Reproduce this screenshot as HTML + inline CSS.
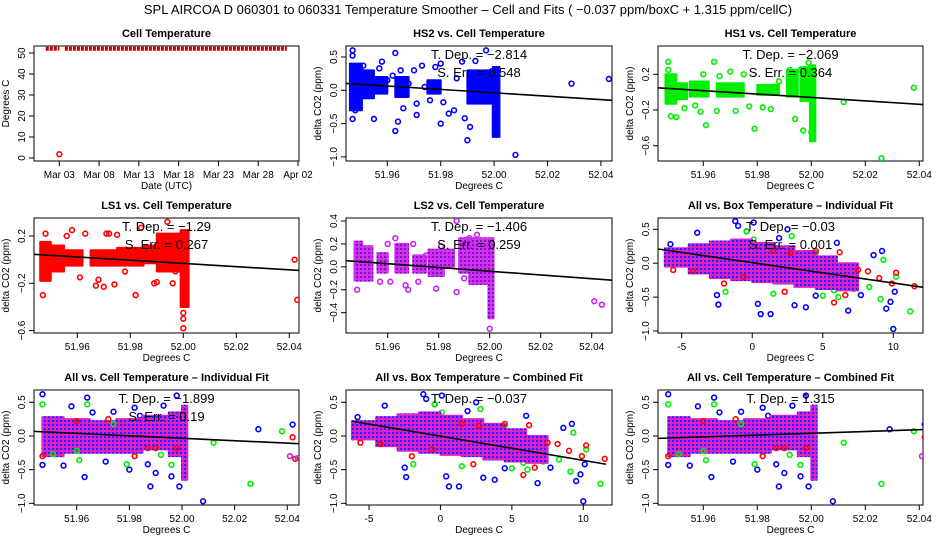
<!DOCTYPE html>
<html><head><meta charset="utf-8"><style>
html,body{margin:0;padding:0;background:#fff;}
svg{display:block;font-family:"Liberation Sans",sans-serif;}
</style></head><body>
<svg id="chart" width="936" height="540" viewBox="0 0 936 540">
<defs>
<pattern id="mixPat" width="4" height="4" patternUnits="userSpaceOnUse">
<rect width="4" height="4" fill="#d020e8"/>
<rect width="2" height="2" fill="#3020f0"/>
<rect x="2" y="2" width="1" height="1" fill="#ff3060"/>
</pattern>
<pattern id="magPat" width="4" height="4" patternUnits="userSpaceOnUse">
<rect width="4" height="4" fill="#d030f0"/>
<rect width="2" height="2" fill="#8010c0"/>
</pattern>
</defs>
<text x="468" y="14" text-anchor="middle" font-size="13">SPL   AIRCOA D   060301 to 060331   Temperature Smoother – Cell and Fits ( −0.037  ppm/boxC +  1.315  ppm/cellC)</text>
</svg>
<script>
// ---- data arrays ----
const cellTicks = [51.96, 51.98, 52.00, 52.02, 52.04];
const boxTicks = [-5, 0, 5, 10];
const dateTicks = [3, 8, 13, 18, 23, 28, 33];
const dateLabels = ["Mar 03","Mar 08","Mar 13","Mar 18","Mar 23","Mar 28","Apr 02"];
const tempTicks = [0, 10, 20, 30, 40, 50];
const yTicksA = [0.5, 0.0, -0.5, -1.0];
const yTicksB = [0.2, -0.2, -0.6];
const yTicksC = [0.4, 0.2, 0.0, -0.2, -0.4];

// Cell temperature series
const cellRunStart = [1.3, 3.7];
const cellRunEnd = [3.0, 31.6];
const cellRunValue = [52, 52];
const cellOutX = [3.0];
const cellOutY = [1.8];

// HS2 (blue)
const hs2X = [51.947,51.947,51.947,51.948,51.951,51.955,51.957,51.958,51.960,51.962,51.963,51.963,51.964,51.965,51.966,51.968,51.970,51.971,51.971,51.973,51.974,51.976,51.978,51.980,51.980,51.981,51.983,51.985,51.986,51.988,51.989,51.990,51.991,51.993,51.995,51.997,52.008,52.029,52.043];
const hs2Y = [0.60,0.52,-0.43,-0.30,0.37,-0.43,0.33,0.43,0.15,0.22,0.56,-0.61,-0.47,0.30,-0.27,0.10,0.30,-0.37,-0.20,0.37,0.05,-0.15,0.35,-0.50,0.40,-0.18,-0.35,-0.30,0.18,0.43,-0.42,-0.75,-0.55,0.44,-0.10,0.60,-0.97,0.10,0.17];
const hs2BandX0 = [51.946,51.9505,51.955,51.963,51.975,51.990,51.9995];
const hs2BandX1 = [51.9505,51.955,51.960,51.968,51.980,51.999,52.002];
const hs2BandLo = [-0.30,-0.12,-0.05,-0.10,-0.05,-0.20,-0.70];
const hs2BandHi = [0.40,0.30,0.20,0.20,0.15,0.30,0.35];
const hs2Fit = [0.115, -0.165];

// HS1 (green)
const hs1X = [51.947,51.947,51.948,51.950,51.953,51.957,51.959,51.960,51.961,51.964,51.965,51.966,51.970,51.972,51.975,51.977,51.979,51.982,51.985,51.988,51.992,51.994,51.996,51.997,51.999,52.000,52.012,52.026,52.038];
const hs1Y = [0.34,0.25,-0.27,-0.28,-0.18,-0.15,-0.22,0.20,-0.37,0.34,-0.21,0.18,0.23,-0.21,0.20,-0.16,-0.41,-0.17,-0.19,0.12,0.25,-0.30,0.25,-0.43,0.33,-0.45,-0.11,-0.74,0.05];
const hs1BandX0 = [51.946,51.950,51.955,51.965,51.980,51.991,51.996,51.9995];
const hs1BandX1 = [51.950,51.954,51.962,51.975,51.988,51.995,51.999,52.0015];
const hs1BandLo = [-0.13,-0.08,-0.05,-0.05,-0.03,-0.05,-0.10,-0.55];
const hs1BandHi = [0.20,0.10,0.12,0.10,0.08,0.25,0.28,0.30];
const hs1Fit = [0.055, -0.155];

// LS1 (red)
const ls1X = [51.947,51.947,51.948,51.953,51.956,51.958,51.961,51.963,51.967,51.968,51.970,51.971,51.972,51.974,51.975,51.978,51.982,51.984,51.989,51.990,51.994,51.996,51.997,52.000,52.000,52.000,52.042,52.043];
const ls1Y = [0.05,-0.30,0.22,-0.05,0.20,0.25,-0.15,0.22,-0.22,-0.17,-0.23,0.22,0.22,-0.21,0.21,-0.10,-0.30,0.27,-0.20,-0.19,0.32,-0.20,-0.10,-0.45,-0.50,-0.58,0.00,-0.34];
const ls1BandX0 = [51.946,51.950,51.955,51.965,51.975,51.985,51.990,51.999];
const ls1BandX1 = [51.950,51.955,51.962,51.975,51.985,51.990,51.999,52.002];
const ls1BandLo = [-0.18,-0.10,-0.05,-0.05,-0.05,-0.03,-0.10,-0.40];
const ls1BandHi = [0.15,0.12,0.08,0.08,0.10,0.12,0.22,0.25];
const ls1Fit = [0.05, -0.10];

// LS2 (magenta)
const ls2X = [51.948,51.957,51.960,51.961,51.963,51.967,51.968,51.970,51.972,51.975,51.979,51.981,51.985,51.987,51.987,51.990,51.992,51.995,52.000,52.041,52.044];
const ls2Y = [-0.20,-0.13,0.20,-0.13,0.25,-0.16,-0.20,0.20,-0.13,0.10,-0.19,0.18,0.05,-0.22,0.40,-0.10,0.25,0.28,-0.54,-0.30,-0.33];
const ls2BandX0 = [51.947,51.950,51.956,51.963,51.970,51.976,51.982,51.988,51.992,51.9995];
const ls2BandX1 = [51.950,51.954,51.960,51.968,51.975,51.982,51.986,51.992,51.999,52.0015];
const ls2BandLo = [-0.12,-0.12,-0.05,-0.05,-0.05,-0.08,0.00,-0.05,-0.15,-0.45];
const ls2BandHi = [0.22,0.18,0.12,0.20,0.10,0.15,0.15,0.25,0.25,0.25];
const ls2Fit = [0.06, -0.12];

// All vs box temperature
const boxBandX0 = [-6.2,-4.5,-3,-1.5,0,1.5,3,4.5,6];
const boxBandX1 = [-4.5,-3,-1.5,0,1.5,3,4.5,6,7.5];
const boxBandLo = [-0.05,-0.15,-0.22,-0.25,-0.28,-0.30,-0.35,-0.38,-0.40];
const boxBandHi = [0.22,0.28,0.32,0.35,0.30,0.25,0.18,0.10,0.00];
const boxBlueX = [-5.8,-3.9,-2.5,-2.4,-1.2,-1.0,0.1,0.4,0.6,1.3,1.9,3.0,3.8,4.5,6.0,6.8,7.7,8.6,9.2,9.5,9.8,10.0,10.1,-0.4,2.5];
const boxBlueY = [0.28,0.45,-0.47,-0.61,0.62,0.55,0.60,-0.60,-0.75,-0.75,0.37,-0.62,-0.65,-0.48,0.30,-0.70,-0.47,0.12,0.18,-0.67,-0.57,-0.97,-0.42,0.47,0.50];
const boxGreenX = [-4.6,-1.9,-0.4,0.1,1.5,2.8,4.5,5.0,5.8,6.1,7.2,8.3,9.1,9.3,10.2,11.2];
const boxGreenY = [0.05,-0.42,0.47,0.35,-0.45,0.40,0.15,-0.48,-0.40,-0.50,-0.38,-0.35,-0.53,0.05,-0.20,-0.71];
const boxRedX = [-5.6,-4.2,-2.0,-0.6,1.5,2.3,2.7,4.5,5.8,6.2,6.6,7.5,8.2,9.0,9.9,10.2,11.5];
const boxRedY = [-0.10,-0.12,-0.30,-0.20,0.18,-0.42,0.15,0.18,-0.58,0.16,-0.47,-0.10,-0.12,-0.22,-0.30,-0.14,-0.34];
const box6Fit = [0.21, -0.37];
const box8Fit = [0.22, -0.42];

// All vs cell temperature
const cellBandX0 = [51.947,51.955,51.965,51.975,51.985,51.995,52.0];
const cellBandX1 = [51.955,51.965,51.975,51.985,51.995,52.0,52.002];
const cellBandLo = [-0.30,-0.25,-0.25,-0.25,-0.20,-0.30,-0.65];
const cellBandHi = [0.28,0.25,0.22,0.25,0.30,0.35,0.45];
const cellBlueX = [51.947,51.947,51.955,51.958,51.963,51.964,51.966,51.971,51.974,51.980,51.982,51.984,51.987,51.988,51.990,51.993,51.996,51.998,51.999,52.008,52.029,52.042];
const cellBlueY = [0.62,-0.43,-0.44,0.44,-0.61,0.57,0.35,-0.38,0.36,-0.50,0.42,0.30,-0.42,-0.75,-0.55,0.45,-0.60,0.60,-0.75,-0.97,0.10,0.17];
const cellGreenX = [51.947,51.951,51.960,51.961,51.964,51.974,51.979,51.992,51.996,52.012,52.026,52.038];
const cellGreenY = [0.47,-0.27,-0.22,-0.36,0.47,0.18,-0.42,-0.28,-0.43,-0.10,-0.71,0.07];
const cellRedX = [51.947,51.960,51.972,51.982,51.987,51.990,51.998,52.042,52.043];
const cellRedY = [-0.30,0.22,0.25,-0.30,-0.18,-0.18,-0.18,-0.02,-0.34];
const cellMagX = [52.041,52.044];
const cellMagY = [-0.30,-0.33];
const cell7Fit = [0.075, -0.125];
const cell9Fit = [-0.04, 0.10];

// ---- drawing ----
const NS = "http://www.w3.org/2000/svg";
const svg = document.getElementById("chart");
function mk(tag, attrs, parent) {
  const e = document.createElementNS(NS, tag);
  for (const k in attrs) e.setAttribute(k, attrs[k]);
  (parent || svg).appendChild(e);
  return e;
}
function lin(d0, d1, r0, r1) { return v => r0 + (v - d0) * (r1 - r0) / (d1 - d0); }

const COLS = [[34, 299], [346, 612], [658, 923]];
const ROWS = [[46, 161], [218, 333], [390, 505]];

function panel(name, r, c, title, xs, ys, xTicks, xLabels, yTicks, yDec, ylabel, xlabel) {
  const g = mk("g", {});
  
  
  const [L, R] = COLS[c], [T, B] = ROWS[r];
  const clip = mk("clipPath", { id: "clip-" + name }, g);
  mk("rect", { x: L, y: T, width: R - L, height: B - T }, clip);
  const t = mk("text", { x: (L + R) / 2, y: T - 9, "text-anchor": "middle", "font-size": "11", "font-weight": "bold" }, g);
  t.textContent = title;
  
  
  const box = mk("rect", { x: L, y: T, width: R - L, height: B - T, fill: "none", stroke: "#000", "stroke-width": 1 }, g);
  
  
  xTicks.forEach((v, i) => {
    const x = xs(v);
    mk("line", { x1: x, x2: x, y1: B, y2: B + 5, stroke: "#000" }, g);
    const tx = mk("text", { x: x, y: B + 17, "text-anchor": "middle", "font-size": "10" }, g);
    tx.textContent = xLabels[i];
    
    
  });
  yTicks.forEach(v => {
    const y = ys(v);
    mk("line", { x1: L - 5, x2: L, y1: y, y2: y, stroke: "#000" }, g);
    const ty = mk("text", { x: L - 9, y: y, "text-anchor": "middle", "font-size": "10", transform: `rotate(-90 ${L - 9} ${y})` }, g);
    ty.textContent = v.toFixed(yDec).replace("-", "−");
    
    
  });
  const xl = mk("text", { x: (L + R) / 2, y: B + 28, "text-anchor": "middle", "font-size": "10" }, g);
  xl.textContent = xlabel;
  
  
  const yx = L - 25, yy = (T + B) / 2;
  const yl = mk("text", { x: yx, y: yy, "text-anchor": "middle", "font-size": "10", transform: `rotate(-90 ${yx} ${yy})` }, g);
  yl.textContent = ylabel;
  
  
  const plot = mk("g", { "clip-path": `url(#clip-${name})` }, g);
  return { g, plot, xs, ys, L, R, T, B };
}
function bands(p, x0, x1, lo, hi, color, name) {
  x0.forEach((v, i) => {
    const a = p.xs(v), b = p.xs(x1[i]);
    const rc = mk("rect", { x: a, y: p.ys(hi[i]), width: Math.max(2, b - a), height: p.ys(lo[i]) - p.ys(hi[i]), fill: color, stroke: color, "stroke-width": 2, "stroke-linejoin": "round" }, p.plot);
    
    
  });
}
function points(p, X, Y, color, name) {
  X.forEach((v, i) => {
    const ci = mk("circle", { cx: p.xs(v), cy: p.ys(Y[i]), r: 2.4, fill: "none", stroke: color, "stroke-width": 1.6 }, p.plot);
    
    
  });
}
function fit(p, x0, x1, yv) {
  const l = mk("line", { x1: p.xs(x0), y1: p.ys(yv[0]), x2: p.xs(x1), y2: p.ys(yv[1]), stroke: "#000", "stroke-width": 1.6 }, p.plot);
  
  
}
function stats(p, l1, l2) {
  const cx = (p.L + p.R) / 2;
  const a = mk("text", { x: cx, y: p.T + 13, "text-anchor": "middle", "font-size": "13" }, p.g);
  a.textContent = l1;
  
  
  if (l2) {
    const b = mk("text", { x: cx, y: p.T + 31, "text-anchor": "middle", "font-size": "13" }, p.g);
    b.textContent = l2;
    
    
  }
}
const cellLabels = cellTicks.map(v => v.toFixed(2));
const BLUE = "#0000ff", GREEN = "#00ee00", RED = "#ff0000", MAG = "#cc22ee";
const MIX = "url(#mixPat)", MAGP = "url(#magPat)";

// Panel 1
{
  const xs = lin(3, 33, 59.3, 298), ys = lin(0, 50, 158, 53);
  const p = panel("cell-temperature-panel", 0, 0, "Cell Temperature", xs, ys, dateTicks, dateLabels, tempTicks, 0, "Degrees C", "Date (UTC)");
  cellRunStart.forEach((s, i) => {
    const l = mk("line", { x1: xs(s), x2: xs(cellRunEnd[i]), y1: ys(cellRunValue[i]), y2: ys(cellRunValue[i]), stroke: "#cc0000", "stroke-width": 4, "stroke-dasharray": "3 1" }, p.plot);
    
    
  });
  points(p, cellOutX, cellOutY, RED, "cell-temp-outlier");
}
// Panel 2 HS2
{
  const p = panel("hs2-panel", 0, 1, "HS2 vs. Cell Temperature", lin(51.96, 51.98, 387.3, 440.7), lin(0, 0.5, 90.3, 57), cellTicks, cellLabels, yTicksA, 1, "delta CO2 (ppm)", "Degrees C");
  bands(p, hs2BandX0, hs2BandX1, hs2BandLo, hs2BandHi, BLUE, "hs2-dense-points");
  points(p, hs2X, hs2Y, BLUE, "hs2-point");
  fit(p, 51.94, 52.05, hs2Fit);
  stats(p, "T. Dep. =  −2.814", "S. Err. =  0.548");
}
// Panel 3 HS1
{
  const p = panel("hs1-panel", 0, 2, "HS1 vs. Cell Temperature", lin(51.96, 52.04, 703.3, 919.3), lin(-0.2, 0.2, 110, 74.3), cellTicks, cellLabels, yTicksB, 1, "delta CO2 (ppm)", "Degrees C");
  bands(p, hs1BandX0, hs1BandX1, hs1BandLo, hs1BandHi, GREEN, "hs1-dense-points");
  points(p, hs1X, hs1Y, GREEN, "hs1-point");
  fit(p, 51.94, 52.05, hs1Fit);
  stats(p, "T. Dep. =  −2.069", "S. Err. =  0.364");
}
// Panel 4 LS1
{
  const p = panel("ls1-panel", 1, 0, "LS1 vs. Cell Temperature", lin(51.96, 52.04, 77.3, 289.3), lin(-0.2, 0.2, 283.3, 236), cellTicks, cellLabels, yTicksB, 1, "delta CO2 (ppm)", "Degrees C");
  bands(p, ls1BandX0, ls1BandX1, ls1BandLo, ls1BandHi, RED, "ls1-dense-points");
  points(p, ls1X, ls1Y, RED, "ls1-point");
  fit(p, 51.94, 52.05, ls1Fit);
  stats(p, "T. Dep. =  −1.29", "S. Err. =  0.267");
}
// Panel 5 LS2
{
  const p = panel("ls2-panel", 1, 1, "LS2 vs. Cell Temperature", lin(51.96, 52.04, 387.7, 591.7), lin(-0.4, 0.4, 312.7, 221), cellTicks, cellLabels, yTicksC, 1, "delta CO2 (ppm)", "Degrees C");
  bands(p, ls2BandX0, ls2BandX1, ls2BandLo, ls2BandHi, MAGP, "ls2-dense-points");
  points(p, ls2X, ls2Y, MAG, "ls2-point");
  fit(p, 51.94, 52.05, ls2Fit);
  stats(p, "T. Dep. =  −1.406", "S. Err. =  0.259");
}
// Panel 6
{
  const p = panel("all-box-individual-panel", 1, 2, "All vs. Box Temperature – Individual Fit", lin(-5, 10, 681.7, 893.3), lin(-1, 0.5, 331, 229.3), boxTicks, boxTicks.map(String), yTicksA, 1, "delta CO2 (ppm)", "Degrees C");
  points(p, boxBlueX, boxBlueY, BLUE, "hs2-point");
  points(p, boxGreenX, boxGreenY, GREEN, "hs1-point");
  bands(p, boxBandX0, boxBandX1, boxBandLo, boxBandHi, MIX, "all-box-dense-points");
  points(p, boxRedX, boxRedY, RED, "ls1-point");
  fit(p, -6.7, 12.6, box6Fit);
  stats(p, "T. Dep. =  −0.03", "S. Err. =  0.001");
}
// Panel 7
{
  const p = panel("all-cell-individual-panel", 2, 0, "All vs. Cell Temperature – Individual Fit", lin(51.96, 52.04, 76.7, 287.3), lin(-1, 0.5, 503.3, 402.3), cellTicks, cellLabels, yTicksA, 1, "delta CO2 (ppm)", "Degrees C");
  points(p, cellBlueX, cellBlueY, BLUE, "hs2-point");
  bands(p, cellBandX0, cellBandX1, cellBandLo, cellBandHi, MIX, "all-cell-dense-points");
  points(p, cellGreenX, cellGreenY, GREEN, "hs1-point");
  points(p, cellRedX, cellRedY, RED, "ls1-point");
  points(p, cellMagX, cellMagY, MAG, "ls2-point");
  fit(p, 51.94, 52.05, cell7Fit);
  stats(p, "T. Dep. =  −1.899", "S. Err. =  0.19");
}
// Panel 8
{
  const p = panel("all-box-combined-panel", 2, 1, "All vs. Box Temperature – Combined Fit", lin(-5, 10, 369, 583.3), lin(-1, 0.5, 503.3, 402.3), boxTicks, boxTicks.map(String), yTicksA, 1, "delta CO2 (ppm)", "Degrees C");
  points(p, boxBlueX, boxBlueY, BLUE, "hs2-point");
  points(p, boxGreenX, boxGreenY, GREEN, "hs1-point");
  bands(p, boxBandX0, boxBandX1, boxBandLo, boxBandHi, MIX, "all-box-dense-points");
  points(p, boxRedX, boxRedY, RED, "ls1-point");
  fit(p, -6.2, 11.6, box8Fit);
  stats(p, "T. Dep. =  −0.037", "");
}
// Panel 9
{
  const p = panel("all-cell-combined-panel", 2, 2, "All vs. Cell Temperature – Combined Fit", lin(51.96, 52.04, 703.3, 919.3), lin(-1, 0.5, 503.3, 402.3), cellTicks, cellLabels, yTicksA, 1, "delta CO2 (ppm)", "Degrees C");
  points(p, cellBlueX, cellBlueY, BLUE, "hs2-point");
  bands(p, cellBandX0, cellBandX1, cellBandLo, cellBandHi, MIX, "all-cell-dense-points");
  points(p, cellGreenX, cellGreenY, GREEN, "hs1-point");
  points(p, cellRedX, cellRedY, RED, "ls1-point");
  points(p, cellMagX, cellMagY, MAG, "ls2-point");
  fit(p, 51.94, 52.045, cell9Fit);
  stats(p, "T. Dep. =  1.315", "");
}
</script>
</body></html>
